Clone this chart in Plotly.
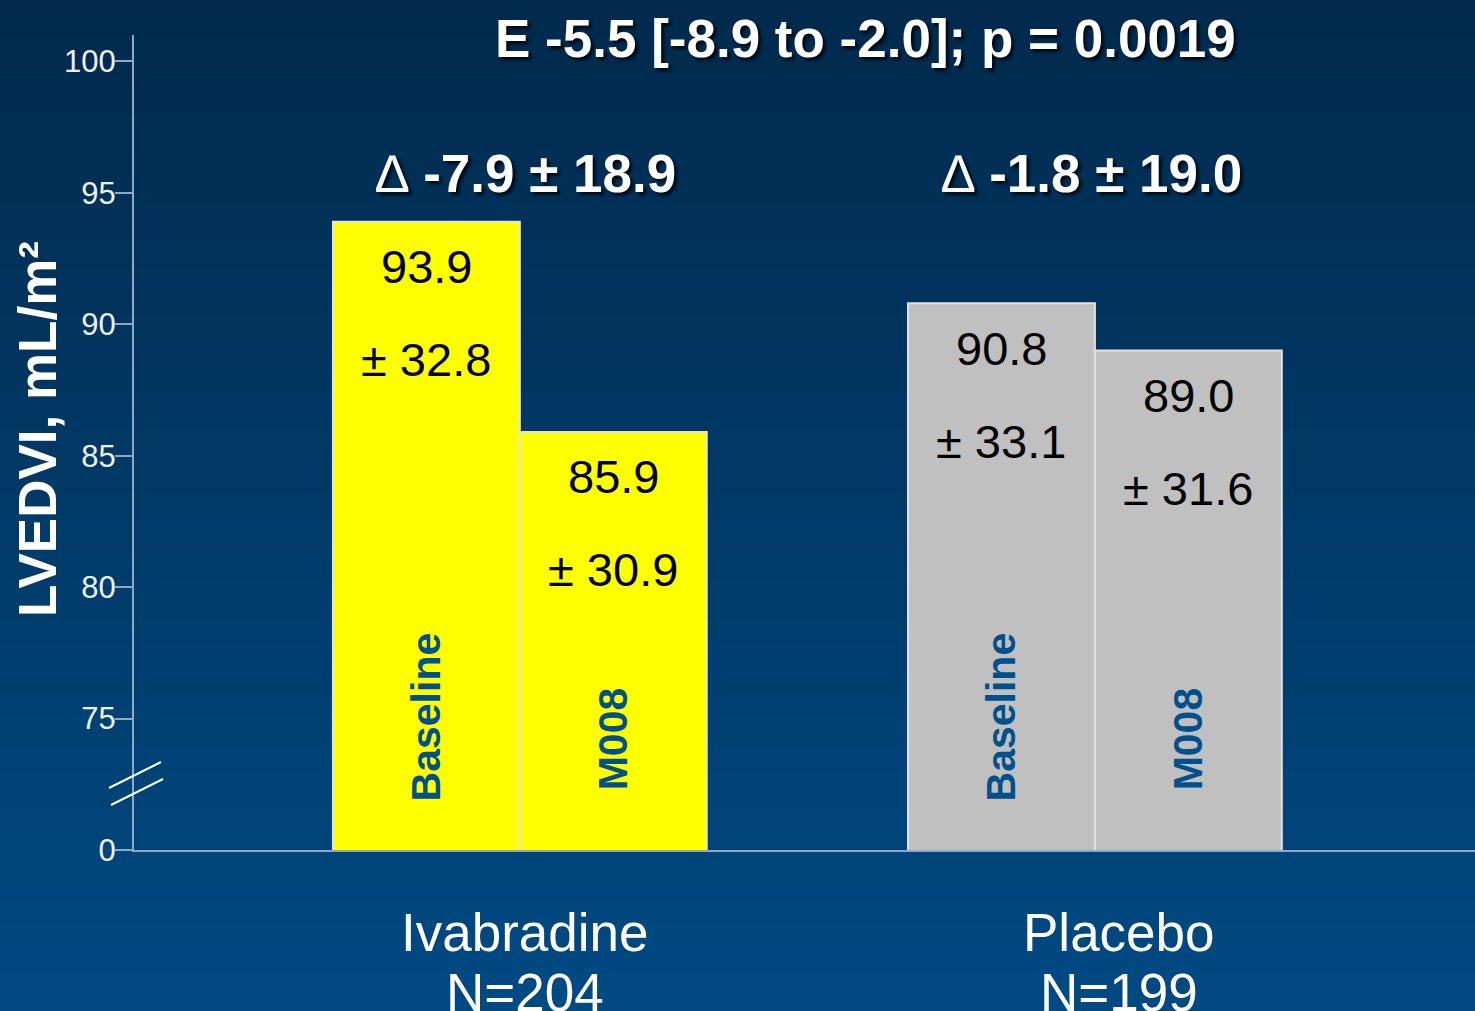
import plotly.graph_objects as go

# ---- data ----
groups = ["Ivabradine", "Placebo"]
group_n = ["N=204", "N=199"]
baseline_mean = [93.9, 90.8]
baseline_sd = [32.8, 33.1]
m008_mean = [85.9, 89.0]
m008_sd = [30.9, 31.6]
delta_mean = [-7.9, -1.8]
delta_sd = [18.9, 19.0]
y_tick_values = [75, 80, 85, 90, 95, 100]
headline = "E -5.5 [-8.9 to -2.0]; p = 0.0019"

# ---- canvas geometry ----
W, H = 1475, 1011
AXIS_FLOOR = 70          # value drawn where the broken axis shows "0"
BAR_W = 0.325
DELTA_X = [526, 1092]    # horizontal centres of the change labels (px)
GROUP_X = [525, 1119]    # horizontal centres of the group names (px)


def px(xp):
    return xp / W


def py(yp):
    return 1 - yp / H


FONT = "Liberation Sans, Arial, sans-serif"
AXIS_COLOR = "#8ea9c6"
YELLOW = "#ffff00"
SILVER = "#c0c0c0"
LABEL_BLUE = "#00508c"
SHADOW = "3px 3px 3px rgba(0,0,0,0.75)"

fig = go.Figure()

fig.add_trace(go.Bar(
    name="Baseline", x=groups, y=baseline_mean,
    marker=dict(color=[YELLOW, SILVER], line=dict(color="#e2e2e2", width=2)),
    width=BAR_W, offset=-BAR_W, hoverinfo="skip",
))
fig.add_trace(go.Bar(
    name="M008", x=groups, y=m008_mean,
    marker=dict(color=[YELLOW, SILVER], line=dict(color="#e2e2e2", width=2)),
    width=BAR_W, offset=0, hoverinfo="skip",
))

# ---- background gradient ----
shapes = []
top_rgb = (1, 42, 77)
bot_rgb = (0, 74, 130)
n_bands = 80
for i in range(n_bands):
    t = i / (n_bands - 1)
    c = tuple(round(a + (b - a) * t) for a, b in zip(top_rgb, bot_rgb))
    shapes.append(dict(
        type="rect", xref="paper", yref="paper", layer="below",
        x0=0, x1=1, y0=max(0, 1 - (i + 1) / n_bands - 0.002), y1=1 - i / n_bands,
        fillcolor=f"rgb{c}", line=dict(width=0),
    ))

# axis break marks
for (xa, ya, xb, yb) in [(109, 788, 161, 762), (111, 805, 163, 779)]:
    shapes.append(dict(
        type="line", xref="paper", yref="paper",
        x0=px(xa), y0=py(ya), x1=px(xb), y1=py(yb),
        line=dict(color="white", width=2),
    ))

annotations = []


def note(text, x, y, size, color, xref="paper", yref="paper", **kw):
    annotations.append(dict(
        text=text, xref=xref, yref=yref, x=x, y=y, showarrow=False,
        xanchor="center", yanchor="middle",
        font=dict(family=FONT, size=size, color=color, **kw.pop("font_extra", {})),
        **kw,
    ))


# headline
note(f"<b>{headline}</b>", px(866), py(38), 53, "white",
     font_extra=dict(shadow=SHADOW))

for i, g in enumerate(groups):
    # change annotation above each group
    note(f"∆ <b>{delta_mean[i]:.1f} ± {delta_sd[i]:.1f}</b>", px(DELTA_X[i]),
         py(174), 53, "white", font_extra=dict(shadow=SHADOW))
    # group name and size below the axis
    note(g, px(GROUP_X[i]), py(932), 53, "white")
    note(group_n[i], px(GROUP_X[i]), py(992), 53, "white")
    # values inside the bars
    for xc, mean, sd, tag, ytag in [
        (i - BAR_W / 2, baseline_mean[i], baseline_sd[i], "Baseline", 717),
        (i + BAR_W / 2, m008_mean[i], m008_sd[i], "M008", 739),
    ]:
        note(f"{mean:.1f}", xc, mean, 47, "black", xref="x", yref="y", yshift=-45)
        note(f"± {sd:.1f}", xc, mean, 47, "black", xref="x", yref="y", yshift=-138)
        note(f"<b>{tag}</b>", xc, py(ytag), 41, LABEL_BLUE, xref="x", textangle=-90)

# y-axis title
note("<b>LVEDVI, mL/m²</b>", px(37), py(429), 53, "white", textangle=-90)

fig.update_layout(
    width=W, height=H, autosize=False,
    margin=dict(l=0, r=0, t=0, b=0, pad=0, autoexpand=False),
    paper_bgcolor="#004a82", plot_bgcolor="rgba(0,0,0,0)",
    showlegend=False, barmode="overlay",
    shapes=shapes, annotations=annotations,
    xaxis=dict(
        domain=[px(134), 1], range=[-0.671, 1.661], automargin=False,
        showline=True, linecolor=AXIS_COLOR, linewidth=2,
        showticklabels=False, ticks="", showgrid=False, zeroline=False,
        fixedrange=True,
    ),
    yaxis=dict(
        domain=[py(850), py(35)], range=[AXIS_FLOOR, 101], automargin=False,
        tickvals=[AXIS_FLOOR] + y_tick_values,
        ticktext=["0"] + [str(v) for v in y_tick_values],
        showline=True, linecolor=AXIS_COLOR, linewidth=2,
        ticks="outside", ticklen=17, tickwidth=2, tickcolor=AXIS_COLOR,
        ticklabelstandoff=-7,
        tickfont=dict(family=FONT, size=31, color="#eef2f7"),
        showgrid=False, zeroline=False, fixedrange=True,
    ),
)

fig.write_html(
    "out.html",
    config={"displayModeBar": False},
    post_script=(
        "document.body.style.margin='0';"
        "document.documentElement.style.overflow='hidden';"
    ),
)
